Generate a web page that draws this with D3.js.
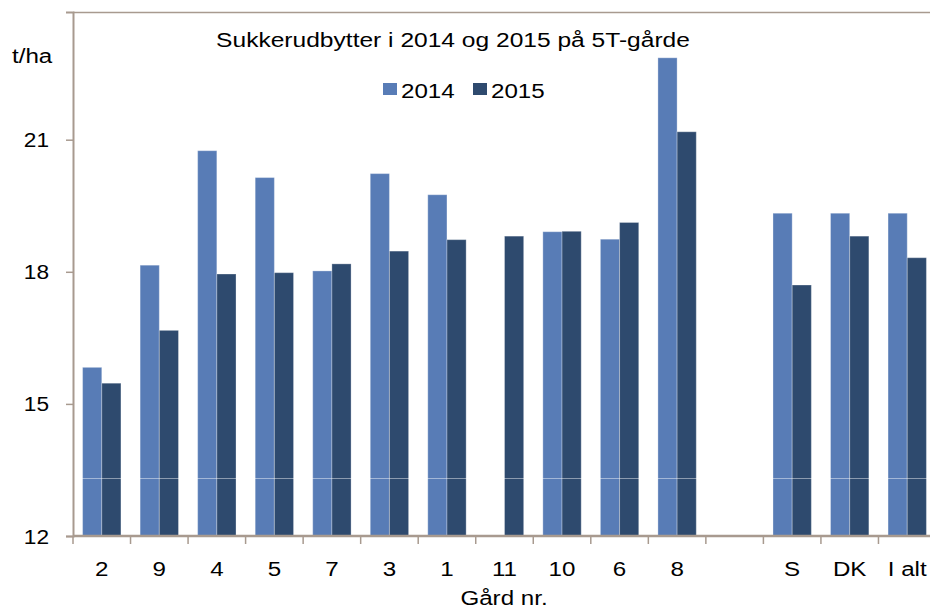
<!DOCTYPE html>
<html>
<head>
<meta charset="utf-8">
<script src="https://cdn.jsdelivr.net/npm/d3@7"></script>
<style>
  body { margin: 0; background: #fff; overflow: hidden; }
  text { font-family: "Liberation Sans", Arial, sans-serif; fill: #000; }
</style>
</head>
<body>
<script>
const W = 930, H = 609;
const margin = { top: 12, right: -6, bottom: 73, left: 73 };

const farms = ["2", "9", "4", "5", "7", "3", "1", "11", "10", "6", "8", "", "S", "DK", "I alt"];
const years = ["2014", "2015"];
const y2014 = [15.83, 18.15, 20.75, 20.14, 18.02, 20.23, 19.75, null, 18.91, 18.74, 22.86, null, 19.33, 19.33, 19.33];
const y2015 = [15.47, 16.67, 17.95, 17.98, 18.18, 18.47, 18.73, 18.81, 18.92, 19.12, 21.18, null, 17.70, 18.81, 18.32];
const yTicks = [12, 15, 18, 21];
const colors = ["#587cb6", "#2e4a6e"];
const axisColor = "#a89a8f";

const svg = d3.select("body").append("svg")
    .attr("width", W)
    .attr("height", H);

// text a bit wider than the font, like the original
function label(x, y, txt, anchor = "start", size = 21, sx = 1.15) {
    return svg.append("text")
        .attr("transform", `translate(${x},${y}) scale(${sx},1)`)
        .attr("text-anchor", anchor)
        .style("font-size", size + "px")
        .text(txt);
}

const plotW = W - margin.left - margin.right;
const plotH = H - margin.top - margin.bottom;

const x0 = d3.scaleBand()
    .domain(d3.range(farms.length))
    .range([margin.left, margin.left + plotW])
    .paddingInner(1 / 3)
    .paddingOuter(1 / 6);

const step = x0.step();

const x1 = d3.scaleBand()
    .domain(years)
    .range([0, x0.bandwidth()]);

const y = d3.scaleLinear()
    .domain([12, 23.9])
    .range([margin.top + plotH, margin.top]);

// bars
const series = [y2014, y2015];
series.forEach((vals, s) => {
    svg.append("g").selectAll("rect")
        .data(vals.map((v, i) => ({ i, v })).filter(d => d.v != null))
        .join("rect")
        .attr("x", d => x0(d.i) + x1(years[s]))
        .attr("y", d => y(d.v))
        .attr("width", x1.bandwidth())
        .attr("height", d => y(12) - y(d.v))
        .attr("fill", colors[s])
        .attr("stroke", "rgba(255,255,255,0.3)")
        .attr("stroke-width", 1);
});

// faint light line across the bars
svg.append("line")
    .attr("x1", margin.left)
    .attr("x2", W)
    .attr("y1", Math.round(y(13.31)) + 0.5)
    .attr("y2", Math.round(y(13.31)) + 0.5)
    .attr("stroke", "rgba(255,255,255,0.45)")
    .attr("stroke-width", 1);

// top border
svg.append("line")
    .attr("x1", margin.left)
    .attr("x2", W)
    .attr("y1", margin.top + 0.5)
    .attr("y2", margin.top + 0.5)
    .attr("stroke", axisColor)
    .attr("stroke-width", 1.5);

// y axis
const yAxis = svg.append("g")
    .attr("transform", `translate(${margin.left},0)`)
    .call(d3.axisLeft(y).tickValues(yTicks).tickSize(7).tickFormat(""));
yAxis.select(".domain").attr("stroke", axisColor).attr("stroke-width", 2);
yAxis.selectAll(".tick line").attr("stroke", axisColor).attr("stroke-width", 1.5);
yTicks.forEach(t => label(49, y(t) + 7.5, d3.format("d")(t), "end", 21, 1.08));

// x axis
const xAxisY = y(12);
const xa = svg.append("g");
xa.append("line")
    .attr("x1", margin.left)
    .attr("x2", W)
    .attr("y1", xAxisY)
    .attr("y2", xAxisY)
    .attr("stroke", axisColor)
    .attr("stroke-width", 2.5);
xa.selectAll(".xtick")
    .data(d3.range(farms.length + 1))
    .join("line")
    .attr("x1", i => margin.left + i * step)
    .attr("x2", i => margin.left + i * step)
    .attr("y1", xAxisY)
    .attr("y2", xAxisY + 8)
    .attr("stroke", axisColor)
    .attr("stroke-width", 1.5);
farms.forEach((f, i) => label(x0(i) + x0.bandwidth() / 2, 576, f, "middle"));

// axis titles
label(504, 605, "Gård nr.", "middle");
label(12, 63, "t/ha");

// title
label(453, 47, "Sukkerudbytter i 2014 og 2015 på 5T-gårde", "middle", 21, 1.17);

// legend
const legendX = [383, 473];
years.forEach((yr, s) => {
    svg.append("rect")
        .attr("x", legendX[s])
        .attr("y", 83)
        .attr("width", 14)
        .attr("height", 12)
        .attr("fill", colors[s]);
    label(legendX[s] + 18, 98, yr);
});
</script>
</body>
</html>
